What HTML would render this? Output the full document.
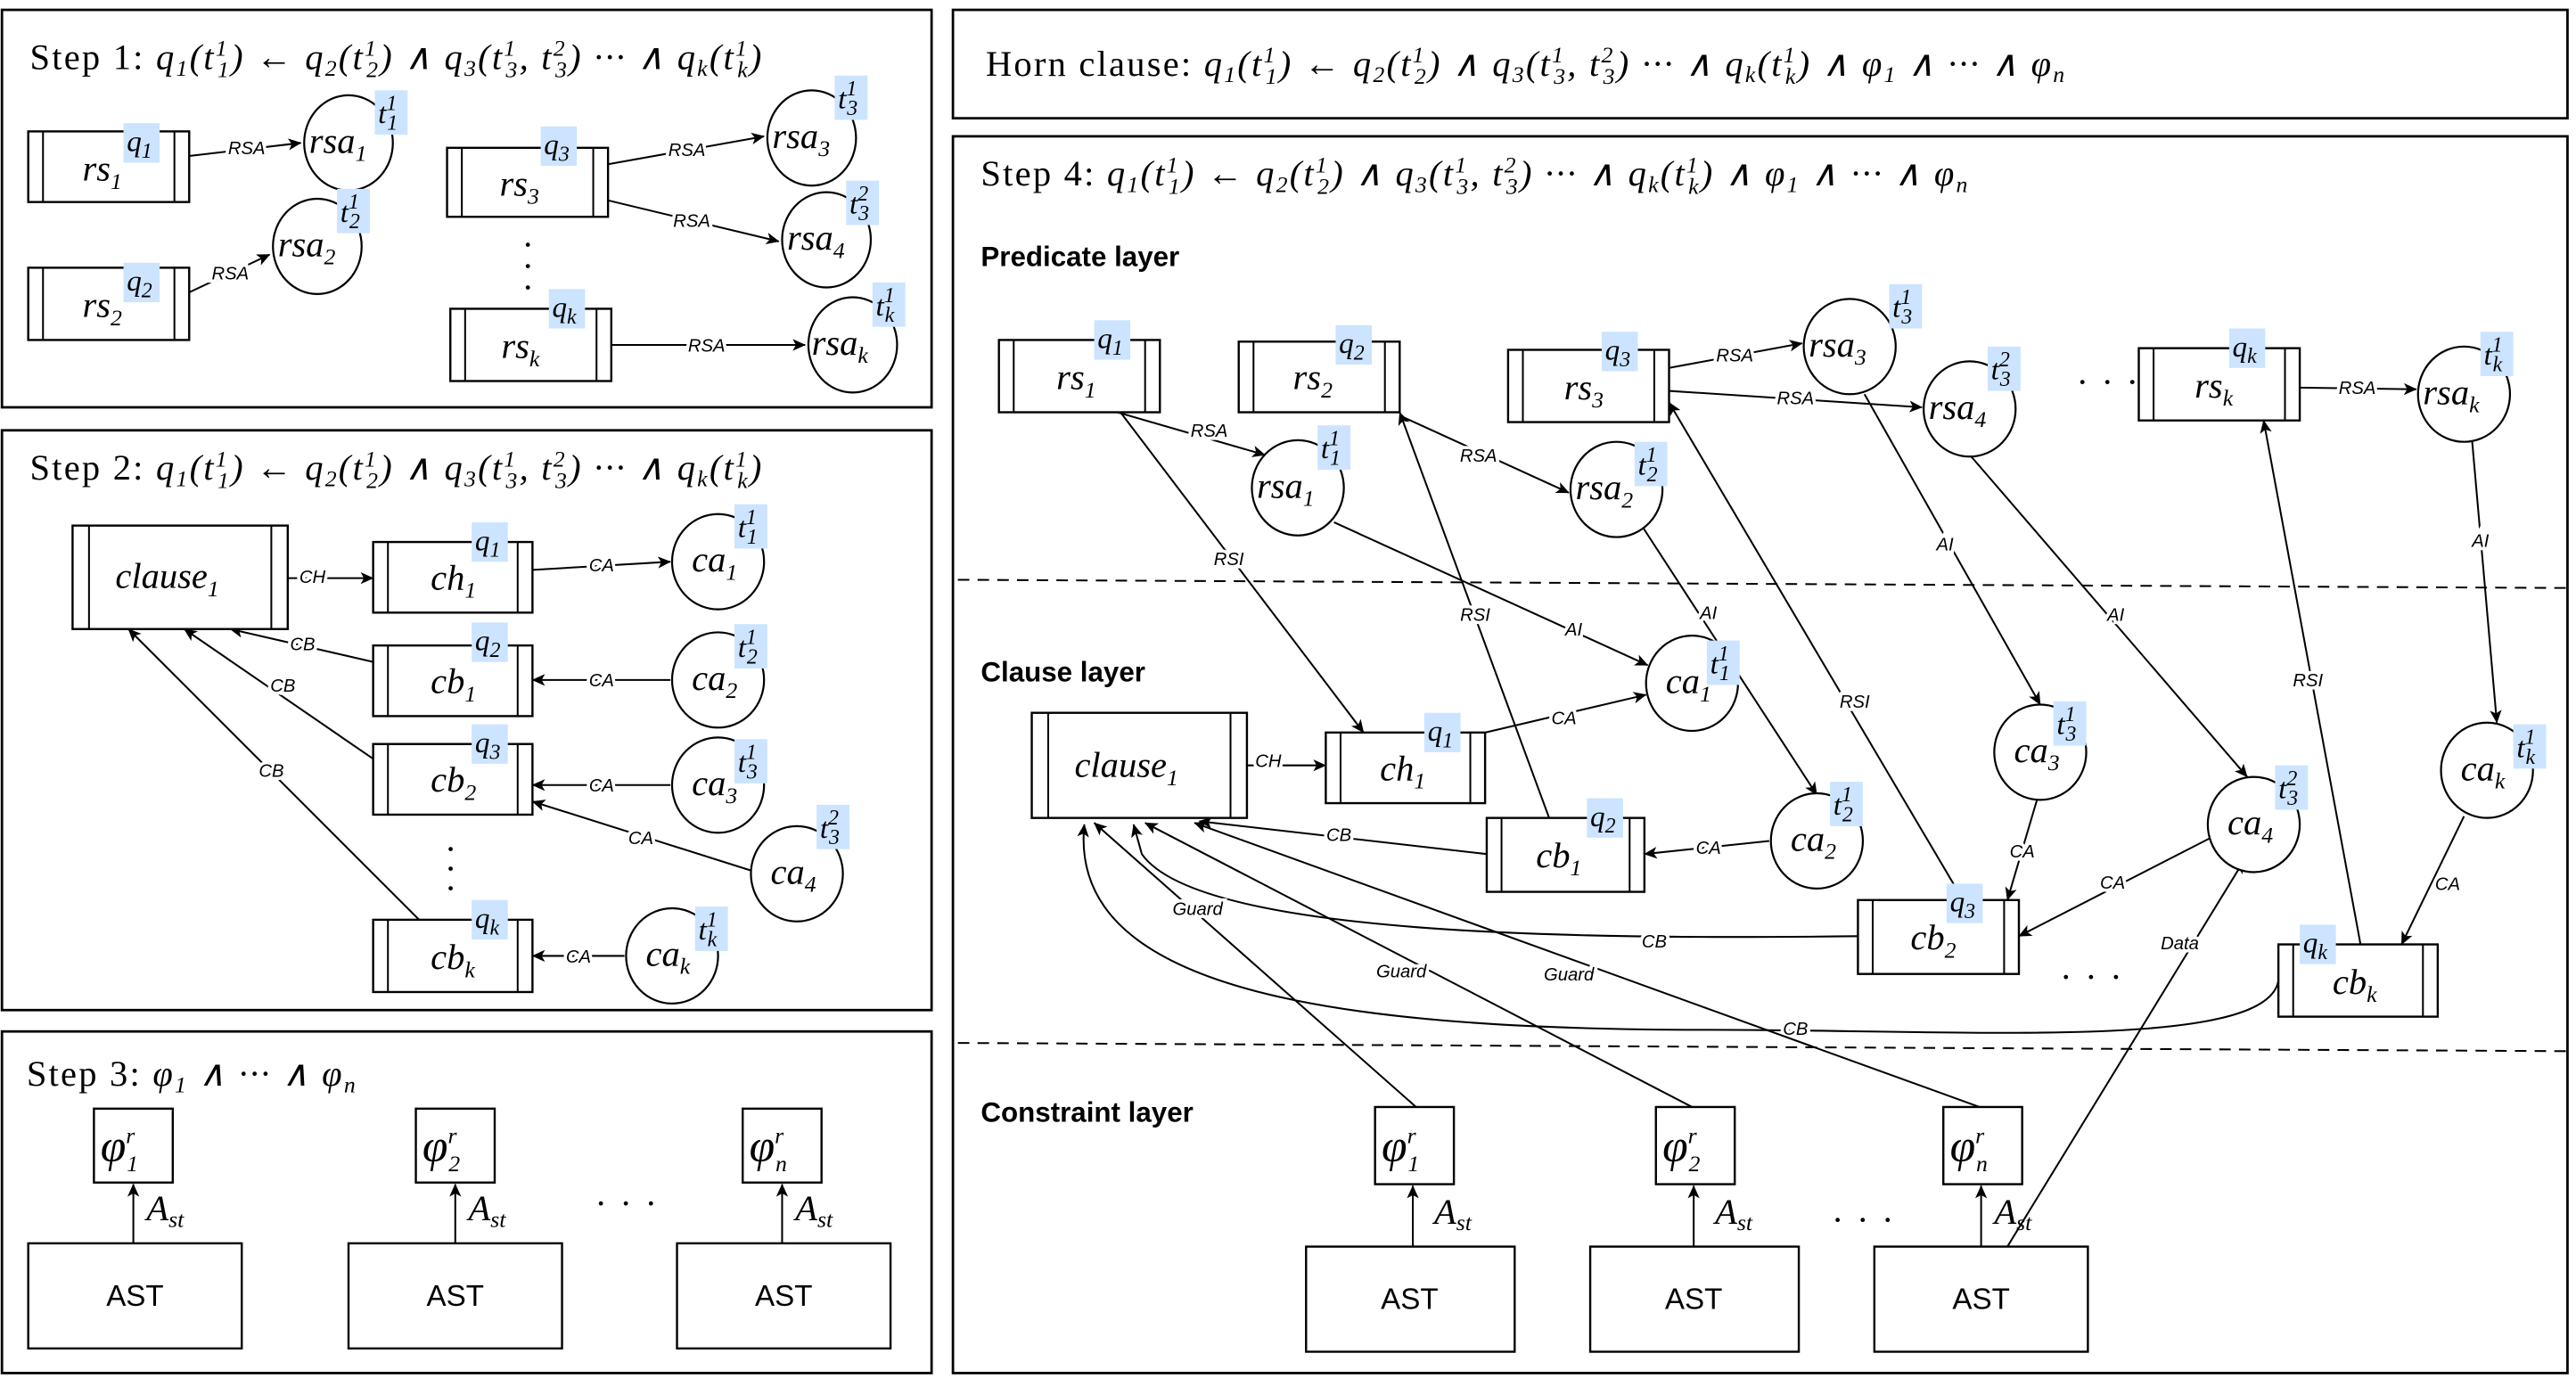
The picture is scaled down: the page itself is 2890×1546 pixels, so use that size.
<!DOCTYPE html>
<html><head><meta charset="utf-8">
<style>
html,body{margin:0;padding:0;background:#fff;}
svg{display:block;}
.m{font-family:"Liberation Serif",serif;font-style:italic;font-size:22px;}
.t{font-family:"Liberation Serif",serif;font-size:22px;letter-spacing:1.2px;}
.s{font-size:14px;}
.tag{font-family:"Liberation Serif",serif;font-style:italic;font-size:18px;}
.tag .s{font-size:13px;}
.e{font-family:"Liberation Sans",sans-serif;font-style:italic;font-size:11px;paint-order:stroke;stroke:#fff;stroke-width:4px;}
.h{font-family:"Liberation Sans",sans-serif;font-weight:bold;font-size:17px;}
.ast{font-family:"Liberation Sans",sans-serif;font-size:18px;}
.phi{font-family:"Liberation Serif",serif;font-style:italic;font-size:28px;}
line,path.c{stroke:#000;stroke-width:1.1;fill:none;}
rect.b{fill:#fff;stroke:#000;stroke-width:1.3;}
ellipse{fill:#fff;stroke:#000;stroke-width:1.2;}
rect.hl{fill:#cce4ff;}
</style></head><body>
<svg width="2890" height="1546" viewBox="0 0 1568 839" xmlns="http://www.w3.org/2000/svg">
<defs>
<marker id="a" viewBox="0 0 10 10" refX="9.5" refY="5" markerWidth="8" markerHeight="8" orient="auto" markerUnits="userSpaceOnUse"><path d="M0,0.5 L10,5 L0,9.5 L2.5,5z" fill="#000"/></marker>
</defs>

<!-- panels -->
<rect x="1" y="6" width="566" height="242" fill="none" stroke="#000" stroke-width="1.5"/>
<rect x="1" y="262" width="566" height="353" fill="none" stroke="#000" stroke-width="1.5"/>
<rect x="1" y="628" width="566" height="208" fill="none" stroke="#000" stroke-width="1.5"/>
<rect x="580" y="6" width="983" height="66" fill="none" stroke="#000" stroke-width="1.5"/>
<rect x="580" y="83" width="983" height="753" fill="none" stroke="#000" stroke-width="1.5"/>

<!-- titles -->
<text x="18" y="42" class="t">Step 1: <tspan font-style="italic">q<tspan class="s" dy="4">1</tspan><tspan dy="-4">(t</tspan><tspan class="s" dy="-8">1</tspan><tspan class="s" dx="-7" dy="13">1</tspan><tspan dy="-5">) ← q</tspan><tspan class="s" dy="4">2</tspan><tspan dy="-4">(t</tspan><tspan class="s" dy="-8">1</tspan><tspan class="s" dx="-7" dy="13">2</tspan><tspan dy="-5">) ∧ q</tspan><tspan class="s" dy="4">3</tspan><tspan dy="-4">(t</tspan><tspan class="s" dy="-8">1</tspan><tspan class="s" dx="-7" dy="13">3</tspan><tspan dy="-5">, t</tspan><tspan class="s" dy="-8">2</tspan><tspan class="s" dx="-7" dy="13">3</tspan><tspan dy="-5">) ··· ∧ q</tspan><tspan class="s" dy="4">k</tspan><tspan dy="-4">(t</tspan><tspan class="s" dy="-8">1</tspan><tspan class="s" dx="-7" dy="13">k</tspan><tspan dy="-5">)</tspan></tspan></text>
<text x="18" y="292" class="t">Step 2: <tspan font-style="italic">q<tspan class="s" dy="4">1</tspan><tspan dy="-4">(t</tspan><tspan class="s" dy="-8">1</tspan><tspan class="s" dx="-7" dy="13">1</tspan><tspan dy="-5">) ← q</tspan><tspan class="s" dy="4">2</tspan><tspan dy="-4">(t</tspan><tspan class="s" dy="-8">1</tspan><tspan class="s" dx="-7" dy="13">2</tspan><tspan dy="-5">) ∧ q</tspan><tspan class="s" dy="4">3</tspan><tspan dy="-4">(t</tspan><tspan class="s" dy="-8">1</tspan><tspan class="s" dx="-7" dy="13">3</tspan><tspan dy="-5">, t</tspan><tspan class="s" dy="-8">2</tspan><tspan class="s" dx="-7" dy="13">3</tspan><tspan dy="-5">) ··· ∧ q</tspan><tspan class="s" dy="4">k</tspan><tspan dy="-4">(t</tspan><tspan class="s" dy="-8">1</tspan><tspan class="s" dx="-7" dy="13">k</tspan><tspan dy="-5">)</tspan></tspan></text>
<text x="16" y="661" class="t">Step 3: <tspan font-style="italic">φ<tspan class="s" dy="4">1</tspan><tspan dy="-4"> ∧ ··· ∧ φ</tspan><tspan class="s" dy="4">n</tspan></tspan></text>
<text x="600" y="46" class="t">Horn clause: <tspan font-style="italic">q<tspan class="s" dy="4">1</tspan><tspan dy="-4">(t</tspan><tspan class="s" dy="-8">1</tspan><tspan class="s" dx="-7" dy="13">1</tspan><tspan dy="-5">) ← q</tspan><tspan class="s" dy="4">2</tspan><tspan dy="-4">(t</tspan><tspan class="s" dy="-8">1</tspan><tspan class="s" dx="-7" dy="13">2</tspan><tspan dy="-5">) ∧ q</tspan><tspan class="s" dy="4">3</tspan><tspan dy="-4">(t</tspan><tspan class="s" dy="-8">1</tspan><tspan class="s" dx="-7" dy="13">3</tspan><tspan dy="-5">, t</tspan><tspan class="s" dy="-8">2</tspan><tspan class="s" dx="-7" dy="13">3</tspan><tspan dy="-5">) ··· ∧ q</tspan><tspan class="s" dy="4">k</tspan><tspan dy="-4">(t</tspan><tspan class="s" dy="-8">1</tspan><tspan class="s" dx="-7" dy="13">k</tspan><tspan dy="-5">) ∧ φ</tspan><tspan class="s" dy="4">1</tspan><tspan dy="-4"> ∧ ··· ∧ φ</tspan><tspan class="s" dy="4">n</tspan></tspan></text>
<text x="597" y="113" class="t">Step 4: <tspan font-style="italic">q<tspan class="s" dy="4">1</tspan><tspan dy="-4">(t</tspan><tspan class="s" dy="-8">1</tspan><tspan class="s" dx="-7" dy="13">1</tspan><tspan dy="-5">) ← q</tspan><tspan class="s" dy="4">2</tspan><tspan dy="-4">(t</tspan><tspan class="s" dy="-8">1</tspan><tspan class="s" dx="-7" dy="13">2</tspan><tspan dy="-5">) ∧ q</tspan><tspan class="s" dy="4">3</tspan><tspan dy="-4">(t</tspan><tspan class="s" dy="-8">1</tspan><tspan class="s" dx="-7" dy="13">3</tspan><tspan dy="-5">, t</tspan><tspan class="s" dy="-8">2</tspan><tspan class="s" dx="-7" dy="13">3</tspan><tspan dy="-5">) ··· ∧ q</tspan><tspan class="s" dy="4">k</tspan><tspan dy="-4">(t</tspan><tspan class="s" dy="-8">1</tspan><tspan class="s" dx="-7" dy="13">k</tspan><tspan dy="-5">) ∧ φ</tspan><tspan class="s" dy="4">1</tspan><tspan dy="-4"> ∧ ··· ∧ φ</tspan><tspan class="s" dy="4">n</tspan></tspan></text>

<!-- ============ STEP 1 ============ -->
<line x1="115" y1="95" x2="183" y2="87" marker-end="url(#a)"/><text x="150" y="94" class="e" text-anchor="middle">RSA</text>
<line x1="115" y1="178" x2="164" y2="155" marker-end="url(#a)"/><text x="140" y="170" class="e" text-anchor="middle">RSA</text>
<line x1="370" y1="100" x2="465" y2="83" marker-end="url(#a)"/><text x="418" y="95" class="e" text-anchor="middle">RSA</text>
<line x1="370" y1="122" x2="474" y2="147" marker-end="url(#a)"/><text x="421" y="138" class="e" text-anchor="middle">RSA</text>
<line x1="372" y1="210" x2="490" y2="210" marker-end="url(#a)"/><text x="430" y="214" class="e" text-anchor="middle">RSA</text>

<g><rect class="b" x="17" y="80" width="98" height="43"/><line x1="26" y1="80" x2="26" y2="123"/><line x1="106" y1="80" x2="106" y2="123"/><text x="50" y="110" class="m">rs<tspan class="s" dy="5">1</tspan></text></g>
<g><rect class="b" x="17" y="163" width="98" height="44"/><line x1="26" y1="163" x2="26" y2="207"/><line x1="106" y1="163" x2="106" y2="207"/><text x="50" y="193" class="m">rs<tspan class="s" dy="5">2</tspan></text></g>
<g><rect class="b" x="272" y="90" width="98" height="42"/><line x1="281" y1="90" x2="281" y2="132"/><line x1="361" y1="90" x2="361" y2="132"/><text x="304" y="119" class="m">rs<tspan class="s" dy="5">3</tspan></text></g>
<g><rect class="b" x="274" y="188" width="98" height="44"/><line x1="283" y1="188" x2="283" y2="232"/><line x1="363" y1="188" x2="363" y2="232"/><text x="305" y="218" class="m">rs<tspan class="s" dy="5">k</tspan></text></g>
<text x="319" y="150" class="m">.</text><text x="319" y="163" class="m">.</text><text x="319" y="176" class="m">.</text>

<ellipse cx="212" cy="87" rx="27" ry="29"/><text x="188" y="93" class="m">rsa<tspan class="s" dy="5">1</tspan></text>
<ellipse cx="193" cy="150" rx="27" ry="29"/><text x="169" y="156" class="m">rsa<tspan class="s" dy="5">2</tspan></text>
<ellipse cx="494" cy="84" rx="27" ry="29"/><text x="470" y="90" class="m">rsa<tspan class="s" dy="5">3</tspan></text>
<ellipse cx="503" cy="146" rx="27" ry="29"/><text x="479" y="152" class="m">rsa<tspan class="s" dy="5">4</tspan></text>
<ellipse cx="519" cy="210" rx="27" ry="29"/><text x="494" y="216" class="m">rsa<tspan class="s" dy="5">k</tspan></text>

<rect class="hl" x="75" y="75" width="22" height="24"/><text x="77" y="92" class="tag">q<tspan class="s" dy="4">1</tspan></text>
<rect class="hl" x="75" y="160" width="22" height="24"/><text x="77" y="177" class="tag">q<tspan class="s" dy="4">2</tspan></text>
<rect class="hl" x="329" y="77" width="22" height="24"/><text x="331" y="94" class="tag">q<tspan class="s" dy="4">3</tspan></text>
<rect class="hl" x="334" y="176" width="22" height="24"/><text x="336" y="193" class="tag">q<tspan class="s" dy="4">k</tspan></text>
<rect class="hl" x="228" y="55" width="20" height="27"/><text x="230" y="75" class="tag">t<tspan class="s" dy="-8">1</tspan><tspan class="s" dx="-6" dy="12">1</tspan></text>
<rect class="hl" x="205" y="115" width="20" height="27"/><text x="207" y="135" class="tag">t<tspan class="s" dy="-8">1</tspan><tspan class="s" dx="-6" dy="12">2</tspan></text>
<rect class="hl" x="508" y="46" width="20" height="27"/><text x="510" y="66" class="tag">t<tspan class="s" dy="-8">1</tspan><tspan class="s" dx="-6" dy="12">3</tspan></text>
<rect class="hl" x="515" y="110" width="20" height="27"/><text x="517" y="130" class="tag">t<tspan class="s" dy="-8">2</tspan><tspan class="s" dx="-6" dy="12">3</tspan></text>
<rect class="hl" x="531" y="172" width="20" height="27"/><text x="533" y="192" class="tag">t<tspan class="s" dy="-8">1</tspan><tspan class="s" dx="-6" dy="12">k</tspan></text>

<!-- ============ STEP 2 ============ -->
<line x1="175" y1="352" x2="227" y2="352" marker-end="url(#a)"/><text x="190" y="355" class="e" text-anchor="middle">CH</text>
<line x1="324" y1="347" x2="408" y2="342" marker-end="url(#a)"/><text x="366" y="348" class="e" text-anchor="middle">CA</text>
<line x1="408" y1="414" x2="324" y2="414" marker-end="url(#a)"/><text x="366" y="418" class="e" text-anchor="middle">CA</text>
<line x1="408" y1="478" x2="324" y2="478" marker-end="url(#a)"/><text x="366" y="482" class="e" text-anchor="middle">CA</text>
<line x1="457" y1="530" x2="324" y2="488" marker-end="url(#a)"/><text x="390" y="514" class="e" text-anchor="middle">CA</text>
<line x1="380" y1="582" x2="324" y2="582" marker-end="url(#a)"/><text x="352" y="586" class="e" text-anchor="middle">CA</text>
<line x1="227" y1="403" x2="140" y2="383" marker-end="url(#a)"/><text x="184" y="396" class="e" text-anchor="middle">CB</text>
<line x1="227" y1="462" x2="112" y2="383" marker-end="url(#a)"/><text x="172" y="421" class="e" text-anchor="middle">CB</text>
<line x1="255" y1="560" x2="78" y2="383" marker-end="url(#a)"/><text x="165" y="473" class="e" text-anchor="middle">CB</text>

<g><rect class="b" x="44" y="320" width="131" height="63"/><line x1="54" y1="320" x2="54" y2="383"/><line x1="165" y1="320" x2="165" y2="383"/><text x="70" y="358" class="m">clause<tspan class="s" dy="5">1</tspan></text></g>
<g><rect class="b" x="227" y="330" width="97" height="43"/><line x1="236" y1="330" x2="236" y2="373"/><line x1="315" y1="330" x2="315" y2="373"/><text x="262" y="359" class="m">ch<tspan class="s" dy="5">1</tspan></text></g>
<g><rect class="b" x="227" y="393" width="97" height="43"/><line x1="236" y1="393" x2="236" y2="436"/><line x1="315" y1="393" x2="315" y2="436"/><text x="262" y="422" class="m">cb<tspan class="s" dy="5">1</tspan></text></g>
<g><rect class="b" x="227" y="453" width="97" height="43"/><line x1="236" y1="453" x2="236" y2="496"/><line x1="315" y1="453" x2="315" y2="496"/><text x="262" y="482" class="m">cb<tspan class="s" dy="5">2</tspan></text></g>
<g><rect class="b" x="227" y="560" width="97" height="44"/><line x1="236" y1="560" x2="236" y2="604"/><line x1="315" y1="560" x2="315" y2="604"/><text x="262" y="590" class="m">cb<tspan class="s" dy="5">k</tspan></text></g>
<text x="272" y="518" class="m">.</text><text x="272" y="530" class="m">.</text><text x="272" y="542" class="m">.</text>

<ellipse cx="437" cy="342" rx="28" ry="29"/><text x="421" y="348" class="m">ca<tspan class="s" dy="5">1</tspan></text>
<ellipse cx="437" cy="414" rx="28" ry="29"/><text x="421" y="420" class="m">ca<tspan class="s" dy="5">2</tspan></text>
<ellipse cx="437" cy="478" rx="28" ry="29"/><text x="421" y="484" class="m">ca<tspan class="s" dy="5">3</tspan></text>
<ellipse cx="485" cy="532" rx="28" ry="29"/><text x="469" y="538" class="m">ca<tspan class="s" dy="5">4</tspan></text>
<ellipse cx="409" cy="582" rx="28" ry="29"/><text x="393" y="588" class="m">ca<tspan class="s" dy="5">k</tspan></text>

<rect class="hl" x="287" y="318" width="22" height="24"/><text x="289" y="335" class="tag">q<tspan class="s" dy="4">1</tspan></text>
<rect class="hl" x="287" y="379" width="22" height="24"/><text x="289" y="396" class="tag">q<tspan class="s" dy="4">2</tspan></text>
<rect class="hl" x="287" y="441" width="22" height="24"/><text x="289" y="458" class="tag">q<tspan class="s" dy="4">3</tspan></text>
<rect class="hl" x="287" y="548" width="22" height="24"/><text x="289" y="565" class="tag">q<tspan class="s" dy="4">k</tspan></text>
<rect class="hl" x="447" y="307" width="20" height="27"/><text x="449" y="327" class="tag">t<tspan class="s" dy="-8">1</tspan><tspan class="s" dx="-6" dy="12">1</tspan></text>
<rect class="hl" x="447" y="380" width="20" height="27"/><text x="449" y="400" class="tag">t<tspan class="s" dy="-8">1</tspan><tspan class="s" dx="-6" dy="12">2</tspan></text>
<rect class="hl" x="447" y="450" width="20" height="27"/><text x="449" y="470" class="tag">t<tspan class="s" dy="-8">1</tspan><tspan class="s" dx="-6" dy="12">3</tspan></text>
<rect class="hl" x="497" y="490" width="20" height="27"/><text x="499" y="510" class="tag">t<tspan class="s" dy="-8">2</tspan><tspan class="s" dx="-6" dy="12">3</tspan></text>
<rect class="hl" x="423" y="552" width="20" height="27"/><text x="425" y="572" class="tag">t<tspan class="s" dy="-8">1</tspan><tspan class="s" dx="-6" dy="12">k</tspan></text>

<!-- ============ STEP 3 ============ -->
<g>
<rect class="b" x="57" y="675" width="48" height="45"/><text x="61" y="707" class="phi">φ<tspan class="s" dy="-11">r</tspan><tspan class="s" dx="-5" dy="17">1</tspan></text>
<rect class="b" x="253" y="675" width="48" height="45"/><text x="257" y="707" class="phi">φ<tspan class="s" dy="-11">r</tspan><tspan class="s" dx="-5" dy="17">2</tspan></text>
<rect class="b" x="452" y="675" width="48" height="45"/><text x="456" y="707" class="phi">φ<tspan class="s" dy="-11">r</tspan><tspan class="s" dx="-5" dy="17">n</tspan></text>
<line x1="81" y1="757" x2="81" y2="721" marker-end="url(#a)"/><text x="89" y="743" class="m" font-size="19">A<tspan class="s" dy="4">st</tspan></text>
<line x1="277" y1="757" x2="277" y2="721" marker-end="url(#a)"/><text x="285" y="743" class="m" font-size="19">A<tspan class="s" dy="4">st</tspan></text>
<line x1="476" y1="757" x2="476" y2="721" marker-end="url(#a)"/><text x="484" y="743" class="m" font-size="19">A<tspan class="s" dy="4">st</tspan></text>
<rect class="b" x="17" y="757" width="130" height="64"/><text x="82" y="795" class="ast" text-anchor="middle">AST</text>
<rect class="b" x="212" y="757" width="130" height="64"/><text x="277" y="795" class="ast" text-anchor="middle">AST</text>
<rect class="b" x="412" y="757" width="130" height="64"/><text x="477" y="795" class="ast" text-anchor="middle">AST</text>
<text x="362" y="740" class="t">· · ·</text>
</g>

<!-- ============ STEP 4 ============ -->
<text x="597" y="162" class="h">Predicate layer</text>
<text x="597" y="415" class="h">Clause layer</text>
<text x="597" y="683" class="h">Constraint layer</text>
<line x1="583" y1="353" x2="1563" y2="358" stroke-dasharray="7,5" stroke-width="2.2"/>
<line x1="583" y1="635" x2="1563" y2="640" stroke-dasharray="7,5" stroke-width="2.2"/>

<!-- edges -->
<line x1="680" y1="251" x2="770" y2="277" marker-end="url(#a)"/><text x="736" y="266" class="e" text-anchor="middle">RSA</text>
<line x1="852" y1="253" x2="955" y2="300" marker-end="url(#a)"/><text x="900" y="281" class="e" text-anchor="middle">RSA</text>
<line x1="1016" y1="224" x2="1097" y2="209" marker-end="url(#a)"/><text x="1056" y="220" class="e" text-anchor="middle">RSA</text>
<line x1="1016" y1="238" x2="1170" y2="248" marker-end="url(#a)"/><text x="1093" y="246" class="e" text-anchor="middle">RSA</text>
<line x1="1400" y1="236" x2="1471" y2="237" marker-end="url(#a)"/><text x="1435" y="240" class="e" text-anchor="middle">RSA</text>

<line x1="682" y1="251" x2="830" y2="446" marker-end="url(#a)"/><text x="748" y="344" class="e" text-anchor="middle">RSI</text>
<line x1="812" y1="318" x2="1003" y2="405" marker-end="url(#a)"/><text x="958" y="387" class="e" text-anchor="middle">AI</text>
<line x1="904" y1="446" x2="1002" y2="423" marker-end="url(#a)"/><text x="952" y="441" class="e" text-anchor="middle">CA</text>
<line x1="759" y1="466" x2="807" y2="466" marker-end="url(#a)"/><text x="772" y="467" class="e" text-anchor="middle">CH</text>
<line x1="943" y1="498" x2="852" y2="251" marker-end="url(#a)"/><text x="898" y="378" class="e" text-anchor="middle">RSI</text>
<line x1="1000" y1="321" x2="1106" y2="484" marker-end="url(#a)"/><text x="1040" y="377" class="e" text-anchor="middle">AI</text>
<line x1="1077" y1="512" x2="1001" y2="520" marker-end="url(#a)"/><text x="1040" y="520" class="e" text-anchor="middle">CA</text>
<line x1="905" y1="520" x2="730" y2="500" marker-end="url(#a)"/><text x="815" y="512" class="e" text-anchor="middle">CB</text>
<line x1="1195" y1="548" x2="1016" y2="245" marker-end="url(#a)"/><text x="1129" y="431" class="e" text-anchor="middle">RSI</text>
<line x1="1135" y1="240" x2="1242" y2="429" marker-end="url(#a)"/><text x="1184" y="335" class="e" text-anchor="middle">AI</text>
<line x1="1200" y1="278" x2="1368" y2="473" marker-end="url(#a)"/><text x="1288" y="378" class="e" text-anchor="middle">AI</text>
<line x1="1240" y1="487" x2="1222" y2="548" marker-end="url(#a)"/><text x="1231" y="522" class="e" text-anchor="middle">CA</text>
<line x1="1346" y1="510" x2="1229" y2="570" marker-end="url(#a)"/><text x="1286" y="541" class="e" text-anchor="middle">CA</text>
<line x1="1505" y1="269" x2="1520" y2="440" marker-end="url(#a)"/><text x="1510" y="333" class="e" text-anchor="middle">AI</text>
<line x1="1500" y1="497" x2="1462" y2="575" marker-end="url(#a)"/><text x="1490" y="542" class="e" text-anchor="middle">CA</text>
<line x1="1437" y1="575" x2="1378" y2="256" marker-end="url(#a)"/><text x="1405" y="418" class="e" text-anchor="middle">RSI</text>
<path class="c" d="M1131,570 C960,572 730,570 695,520 L690,502" marker-end="url(#a)"/><text x="1007" y="577" class="e" text-anchor="middle">CB</text>
<path class="c" d="M1387,597 C1380,640 1200,627 1040,627 C800,627 650,600 660,502" marker-end="url(#a)"/><text x="1093" y="630" class="e" text-anchor="middle">CB</text>
<line x1="862" y1="674" x2="666" y2="501" marker-end="url(#a)"/><text x="729" y="557" class="e" text-anchor="middle">Guard</text>
<line x1="1030" y1="674" x2="697" y2="501" marker-end="url(#a)"/><text x="853" y="595" class="e" text-anchor="middle">Guard</text>
<line x1="1205" y1="674" x2="727" y2="501" marker-end="url(#a)"/><text x="955" y="597" class="e" text-anchor="middle">Guard</text>
<line x1="1222" y1="759" x2="1366" y2="524" marker-end="url(#a)"/><text x="1327" y="578" class="e" text-anchor="middle">Data</text>

<!-- predicate nodes -->
<g><rect class="b" x="608" y="207" width="98" height="44"/><line x1="617" y1="207" x2="617" y2="251"/><line x1="697" y1="207" x2="697" y2="251"/><text x="643" y="237" class="m">rs<tspan class="s" dy="5">1</tspan></text></g>
<g><rect class="b" x="754" y="208" width="98" height="43"/><line x1="763" y1="208" x2="763" y2="251"/><line x1="843" y1="208" x2="843" y2="251"/><text x="787" y="237" class="m">rs<tspan class="s" dy="5">2</tspan></text></g>
<g><rect class="b" x="918" y="213" width="98" height="44"/><line x1="927" y1="213" x2="927" y2="257"/><line x1="1007" y1="213" x2="1007" y2="257"/><text x="952" y="243" class="m">rs<tspan class="s" dy="5">3</tspan></text></g>
<g><rect class="b" x="1302" y="212" width="98" height="44"/><line x1="1311" y1="212" x2="1311" y2="256"/><line x1="1391" y1="212" x2="1391" y2="256"/><text x="1336" y="242" class="m">rs<tspan class="s" dy="5">k</tspan></text></g>
<text x="1264" y="240" class="t">· · ·</text>

<ellipse cx="790" cy="297" rx="28" ry="29"/><text x="765" y="303" class="m">rsa<tspan class="s" dy="5">1</tspan></text>
<ellipse cx="984" cy="298" rx="28" ry="29"/><text x="959" y="304" class="m">rsa<tspan class="s" dy="5">2</tspan></text>
<ellipse cx="1126" cy="211" rx="28" ry="29"/><text x="1101" y="217" class="m">rsa<tspan class="s" dy="5">3</tspan></text>
<ellipse cx="1199" cy="249" rx="28" ry="29"/><text x="1174" y="255" class="m">rsa<tspan class="s" dy="5">4</tspan></text>
<ellipse cx="1500" cy="240" rx="28" ry="29"/><text x="1475" y="246" class="m">rsa<tspan class="s" dy="5">k</tspan></text>

<!-- clause nodes -->
<g><rect class="b" x="628" y="434" width="131" height="64"/><line x1="638" y1="434" x2="638" y2="498"/><line x1="749" y1="434" x2="749" y2="498"/><text x="654" y="473" class="m">clause<tspan class="s" dy="5">1</tspan></text></g>
<g><rect class="b" x="807" y="446" width="97" height="43"/><line x1="816" y1="446" x2="816" y2="489"/><line x1="895" y1="446" x2="895" y2="489"/><text x="840" y="475" class="m">ch<tspan class="s" dy="5">1</tspan></text></g>
<g><rect class="b" x="905" y="498" width="96" height="45"/><line x1="914" y1="498" x2="914" y2="543"/><line x1="992" y1="498" x2="992" y2="543"/><text x="935" y="528" class="m">cb<tspan class="s" dy="5">1</tspan></text></g>
<g><rect class="b" x="1131" y="548" width="98" height="45"/><line x1="1140" y1="548" x2="1140" y2="593"/><line x1="1220" y1="548" x2="1220" y2="593"/><text x="1163" y="578" class="m">cb<tspan class="s" dy="5">2</tspan></text></g>
<g><rect class="b" x="1387" y="575" width="97" height="44"/><line x1="1396" y1="575" x2="1396" y2="619"/><line x1="1475" y1="575" x2="1475" y2="619"/><text x="1420" y="605" class="m">cb<tspan class="s" dy="5">k</tspan></text></g>
<text x="1254" y="602" class="t">· · ·</text>

<ellipse cx="1030" cy="416" rx="28" ry="29"/><text x="1014" y="422" class="m">ca<tspan class="s" dy="5">1</tspan></text>
<ellipse cx="1106" cy="512" rx="28" ry="29"/><text x="1090" y="518" class="m">ca<tspan class="s" dy="5">2</tspan></text>
<ellipse cx="1242" cy="458" rx="28" ry="29"/><text x="1226" y="464" class="m">ca<tspan class="s" dy="5">3</tspan></text>
<ellipse cx="1372" cy="502" rx="28" ry="29"/><text x="1356" y="508" class="m">ca<tspan class="s" dy="5">4</tspan></text>
<ellipse cx="1514" cy="469" rx="28" ry="29"/><text x="1498" y="475" class="m">ca<tspan class="s" dy="5">k</tspan></text>

<!-- tags step 4 -->
<rect class="hl" x="666" y="195" width="22" height="24"/><text x="668" y="212" class="tag">q<tspan class="s" dy="4">1</tspan></text>
<rect class="hl" x="813" y="198" width="22" height="24"/><text x="815" y="215" class="tag">q<tspan class="s" dy="4">2</tspan></text>
<rect class="hl" x="975" y="202" width="22" height="24"/><text x="977" y="219" class="tag">q<tspan class="s" dy="4">3</tspan></text>
<rect class="hl" x="1357" y="200" width="22" height="24"/><text x="1359" y="217" class="tag">q<tspan class="s" dy="4">k</tspan></text>
<rect class="hl" x="867" y="434" width="22" height="24"/><text x="869" y="451" class="tag">q<tspan class="s" dy="4">1</tspan></text>
<rect class="hl" x="966" y="486" width="22" height="24"/><text x="968" y="503" class="tag">q<tspan class="s" dy="4">2</tspan></text>
<rect class="hl" x="1185" y="538" width="22" height="24"/><text x="1187" y="555" class="tag">q<tspan class="s" dy="4">3</tspan></text>
<rect class="hl" x="1400" y="563" width="22" height="24"/><text x="1402" y="580" class="tag">q<tspan class="s" dy="4">k</tspan></text>
<rect class="hl" x="802" y="259" width="20" height="27"/><text x="804" y="279" class="tag">t<tspan class="s" dy="-8">1</tspan><tspan class="s" dx="-6" dy="12">1</tspan></text>
<rect class="hl" x="995" y="269" width="20" height="27"/><text x="997" y="289" class="tag">t<tspan class="s" dy="-8">1</tspan><tspan class="s" dx="-6" dy="12">2</tspan></text>
<rect class="hl" x="1150" y="173" width="20" height="27"/><text x="1152" y="193" class="tag">t<tspan class="s" dy="-8">1</tspan><tspan class="s" dx="-6" dy="12">3</tspan></text>
<rect class="hl" x="1210" y="211" width="20" height="27"/><text x="1212" y="231" class="tag">t<tspan class="s" dy="-8">2</tspan><tspan class="s" dx="-6" dy="12">3</tspan></text>
<rect class="hl" x="1510" y="202" width="20" height="27"/><text x="1512" y="222" class="tag">t<tspan class="s" dy="-8">1</tspan><tspan class="s" dx="-6" dy="12">k</tspan></text>
<rect class="hl" x="1039" y="390" width="20" height="27"/><text x="1041" y="410" class="tag">t<tspan class="s" dy="-8">1</tspan><tspan class="s" dx="-6" dy="12">1</tspan></text>
<rect class="hl" x="1114" y="476" width="20" height="27"/><text x="1116" y="496" class="tag">t<tspan class="s" dy="-8">1</tspan><tspan class="s" dx="-6" dy="12">2</tspan></text>
<rect class="hl" x="1250" y="427" width="20" height="27"/><text x="1252" y="447" class="tag">t<tspan class="s" dy="-8">1</tspan><tspan class="s" dx="-6" dy="12">3</tspan></text>
<rect class="hl" x="1385" y="466" width="20" height="27"/><text x="1387" y="486" class="tag">t<tspan class="s" dy="-8">2</tspan><tspan class="s" dx="-6" dy="12">3</tspan></text>
<rect class="hl" x="1530" y="441" width="20" height="27"/><text x="1532" y="461" class="tag">t<tspan class="s" dy="-8">1</tspan><tspan class="s" dx="-6" dy="12">k</tspan></text>

<!-- constraint layer -->
<rect class="b" x="837" y="674" width="48" height="47"/><text x="841" y="707" class="phi">φ<tspan class="s" dy="-11">r</tspan><tspan class="s" dx="-5" dy="17">1</tspan></text>
<rect class="b" x="1008" y="674" width="48" height="47"/><text x="1012" y="707" class="phi">φ<tspan class="s" dy="-11">r</tspan><tspan class="s" dx="-5" dy="17">2</tspan></text>
<rect class="b" x="1183" y="674" width="48" height="47"/><text x="1187" y="707" class="phi">φ<tspan class="s" dy="-11">r</tspan><tspan class="s" dx="-5" dy="17">n</tspan></text>
<line x1="860" y1="759" x2="860" y2="722" marker-end="url(#a)"/><text x="873" y="745" class="m" font-size="19">A<tspan class="s" dy="4">st</tspan></text>
<line x1="1031" y1="759" x2="1031" y2="722" marker-end="url(#a)"/><text x="1044" y="745" class="m" font-size="19">A<tspan class="s" dy="4">st</tspan></text>
<line x1="1206" y1="759" x2="1206" y2="722" marker-end="url(#a)"/><text x="1214" y="745" class="m" font-size="19">A<tspan class="s" dy="4">st</tspan></text>
<rect class="b" x="795" y="759" width="127" height="64" style="fill:none"/><text x="858" y="797" class="ast" text-anchor="middle">AST</text>
<rect class="b" x="968" y="759" width="127" height="64" style="fill:none"/><text x="1031" y="797" class="ast" text-anchor="middle">AST</text>
<rect class="b" x="1141" y="759" width="130" height="64" style="fill:none"/><text x="1206" y="797" class="ast" text-anchor="middle">AST</text>
<text x="1115" y="750" class="t">· · ·</text>
</svg>
</body></html>
